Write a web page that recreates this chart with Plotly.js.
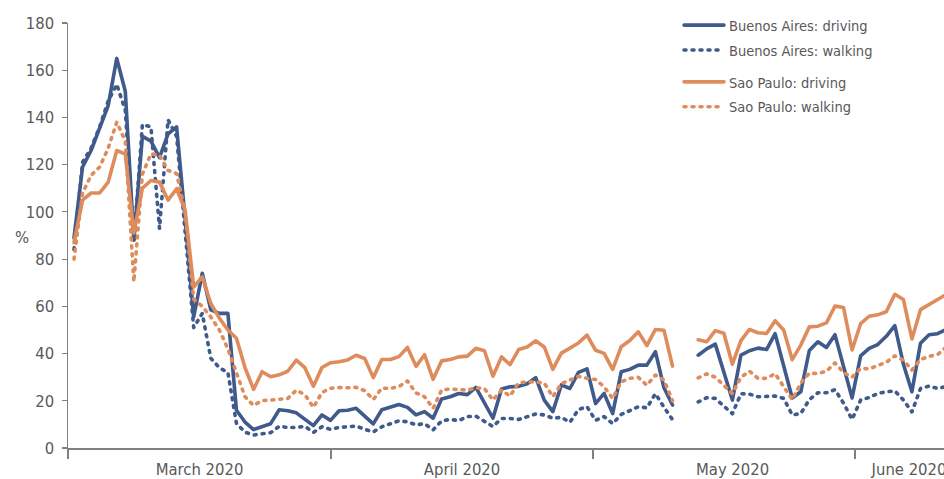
<!DOCTYPE html>
<html>
<head>
<meta charset="utf-8">
<script src="https://cdn.plot.ly/plotly-3.0.1.min.js"></script>
<style>
  html, body { margin: 0; padding: 0; background: #fff; }
  #chart { width: 944px; height: 479px; }
  .js-line { stroke-linecap: round; stroke-linejoin: round; }
  .legendlines path { stroke-linecap: round; }
</style>
</head>
<body>
<div id="chart"></div>
<script>
const dates = [
"2020-03-01","2020-03-02","2020-03-03","2020-03-04","2020-03-05","2020-03-06","2020-03-07","2020-03-08","2020-03-09","2020-03-10",
"2020-03-11","2020-03-12","2020-03-13","2020-03-14","2020-03-15","2020-03-16","2020-03-17","2020-03-18","2020-03-19","2020-03-20",
"2020-03-21","2020-03-22","2020-03-23","2020-03-24","2020-03-25","2020-03-26","2020-03-27","2020-03-28","2020-03-29","2020-03-30",
"2020-03-31","2020-04-01","2020-04-02","2020-04-03","2020-04-04","2020-04-05","2020-04-06","2020-04-07","2020-04-08","2020-04-09",
"2020-04-10","2020-04-11","2020-04-12","2020-04-13","2020-04-14","2020-04-15","2020-04-16","2020-04-17","2020-04-18","2020-04-19",
"2020-04-20","2020-04-21","2020-04-22","2020-04-23","2020-04-24","2020-04-25","2020-04-26","2020-04-27","2020-04-28","2020-04-29",
"2020-04-30","2020-05-01","2020-05-02","2020-05-03","2020-05-04","2020-05-05","2020-05-06","2020-05-07","2020-05-08","2020-05-09",
"2020-05-10","2020-05-11","2020-05-12","2020-05-13","2020-05-14","2020-05-15","2020-05-16","2020-05-17","2020-05-18","2020-05-19",
"2020-05-20","2020-05-21","2020-05-22","2020-05-23","2020-05-24","2020-05-25","2020-05-26","2020-05-27","2020-05-28","2020-05-29",
"2020-05-30","2020-05-31","2020-06-01","2020-06-02","2020-06-03","2020-06-04","2020-06-05","2020-06-06","2020-06-07","2020-06-08",
"2020-06-09","2020-06-10","2020-06-11"
];

const baDriving = [
89,119,126,136,145,165,151,88,132,130,
123,133,136,97,55.5,74,58.5,57,57,16,
11,7.8,9,10.3,16.2,15.8,14.9,12.3,9.5,14,
11.7,15.8,16,16.8,13.3,10.2,16.2,17.4,18.4,17.2,
14,15.4,12.6,20.8,21.7,23.1,22.6,25.7,19.2,12.6,
25,25.9,26.1,27.2,29.8,20.3,15.4,26.7,25.2,32,
33.5,18.8,23.1,14.6,32.3,33.3,35.1,35.1,40.8,25.5,
18.2,null,null,39.3,42,44,32,20.3,39.3,41.2,
42.3,41.7,48.4,35,21.2,23.8,41.3,45,42.6,48,
34,21.2,39,42.2,43.8,47.3,51.8,35.5,23.8,44.4,
48,48.4,50.2
];

const baWalking = [
84,121,127,136,147,154,143,87,137,136,
93,139,132,90,51,57,38,34,32,10.4,
6.7,5.5,6,6.5,9.2,8.7,8.7,9.2,6.6,9,
7.9,8.7,9,9.3,7.9,6.8,9,10.3,11.5,11.1,
9.8,10.3,7.7,11.5,12.1,11.6,13.3,13.5,11.4,9.1,
12.5,12.5,12.1,13.4,14.4,14,12.6,13,10.9,16.3,
17.5,11.7,13.3,10.3,14.2,15.8,17.5,17,23,17.3,
12,null,null,19.5,21.3,21,17.5,14.5,23,22.8,
21.7,21.9,22,21,14,14.6,20.5,23.4,23.4,24.7,
19,12.1,20.3,21.4,23.1,23.8,24.2,20.3,15.3,25.2,
26.2,25.2,26
];

const spDriving = [
87,105,108,108,112.6,126,124.5,91,110,113.3,
112.6,105,109.8,100.7,68.2,72.5,61.2,55,50,46.5,
34,24.8,32.3,30.2,31,32.5,37.2,34,26.2,34.1,
36.1,36.5,37.3,39.3,37.9,29.8,37.5,37.5,38.7,42.6,
34.6,39.5,29.1,36.9,37.5,38.6,38.9,42.2,41.2,30.4,
38.6,35.3,41.7,42.8,45.4,42.8,33.3,40.2,42.3,44.5,
47.8,41.4,40.1,33.3,42.9,45.5,49.2,43.4,50.2,49.9,
34.7,null,null,45.8,45,49.7,48.6,35.5,45.5,50.2,
48.8,48.5,53.9,50,37.4,43.6,51.3,51.6,53,60.1,
59.5,41.5,52.7,55.8,56.4,57.7,65.1,62.9,46.2,58.6,
60.9,62.9,65
];

const spWalking = [
80,108,115.5,119,127,138,130,70.4,116,124.6,
124,117.6,116.2,100,63,60,55.5,50,42,32,
21.7,18,20.1,20.3,20.6,21,24.5,22.6,17.2,23.5,
25.3,25.6,25.5,25.7,24.3,20.5,25.4,25.2,26,28.4,
23.3,21.7,16.8,24.6,25,24.8,24.5,25.5,25.2,20.3,
24.5,22,27.6,28,28,27.5,21.7,27.3,28.8,30.3,
29.5,29,25.9,21,28,29.5,29.9,26.6,30.9,28.8,
20,null,null,29.7,31.4,30,26.5,23,30,32.5,
29.5,29.5,31.5,26,20.5,27.5,31.7,31.5,32.5,36,
32,30,33.7,33.5,35,36.3,39,37.2,33,37.5,
38.8,39.6,42.7
];

const seriesNames = ["Buenos Aires: driving","Buenos Aires: walking","Sao Paulo: driving","Sao Paulo: walking"];
const monthLabels = ["March 2020","April 2020","May 2020","June 2020"];
const monthLabelPos = ["2020-03-15 16:19","2020-04-15 09:07","2020-05-17 00:29","2020-06-06 15:50"];
const monthBoundaries = ["2020-02-29 07:20","2020-03-31 01:26","2020-04-30 16:48","2020-05-31 08:24"];
const yTicks = [0,20,40,60,80,100,120,140,160,180];

const BLUE = "#3F5A8B";
const ORANGE = "#DF8C5D";
const FONT = "'Liberation Sans Narrow', 'DejaVu Sans Condensed', 'Arial Narrow', sans-serif";

function tr(y, name, color, dash, group, legendId) {
  return {
    x: dates, y: y, name: name, type: "scatter", mode: "lines",
    connectgaps: false, legendgroup: group, legend: legendId,
    line: {color: color, width: 3.6, dash: dash},
    hoverinfo: "skip"
  };
}

const data = [
  tr(baDriving, seriesNames[0], BLUE, "solid", "g1", "legend"),
  tr(baWalking, seriesNames[1], BLUE, "2px,6px", "g2", "legend"),
  tr(spDriving, seriesNames[2], ORANGE, "solid", "g3", "legend2"),
  tr(spWalking, seriesNames[3], ORANGE, "2px,6px", "g4", "legend2")
];

const legendStyle = {
  xanchor: "left", yanchor: "top", itemwidth: 40,
  font: {family: FONT, size: 14.5, color: "#595959"},
  bgcolor: "rgba(0,0,0,0)", traceorder: "grouped", tracegroupgap: 3
};

const layout = {
  width: 944, height: 479,
  margin: {l: 68, r: 0, t: 23, b: 31, pad: 0},
  paper_bgcolor: "#ffffff", plot_bgcolor: "#ffffff",
  font: {family: FONT, size: 16.5, color: "#595959"},
  showlegend: true,
  legend: Object.assign({x: 0.6975, y: 1.0325}, legendStyle),
  legend2: Object.assign({x: 0.6975, y: 0.899}, legendStyle),
  xaxis: {
    type: "date",
    range: ["2020-02-29 07:10", "2020-06-10 18:00"],
    tickmode: "array", tickvals: monthLabelPos, ticktext: monthLabels,
    ticks: "", showgrid: false, zeroline: false,
    showline: true, linecolor: "#808080", linewidth: 1.5,
    tickfont: {family: FONT, size: 16.5, color: "#595959"},
    ticklabelstandoff: 6, ticklabeloverflow: "allow",
    minor: {tickmode: "array", tickvals: monthBoundaries, ticks: "outside", ticklen: 9, tickwidth: 1.5, tickcolor: "#808080", showgrid: false}
  },
  yaxis: {
    range: [0, 180], tickmode: "array", tickvals: yTicks,
    ticks: "outside", ticklen: 5, tickwidth: 1.2, tickcolor: "#808080",
    showgrid: false, zeroline: false,
    showline: true, linecolor: "#808080", linewidth: 1.5,
    tickfont: {family: FONT, size: 16.5, color: "#595959"},
    ticklabelstandoff: 4
  },
  annotations: [{
    text: "%", xref: "paper", yref: "paper",
    x: -0.0525, y: 0.496, xanchor: "center", yanchor: "middle",
    showarrow: false, font: {family: FONT, size: 16.5, color: "#595959"}
  }]
};

Plotly.newPlot("chart", data, layout, {staticPlot: true, displayModeBar: false});
</script>
</body>
</html>
